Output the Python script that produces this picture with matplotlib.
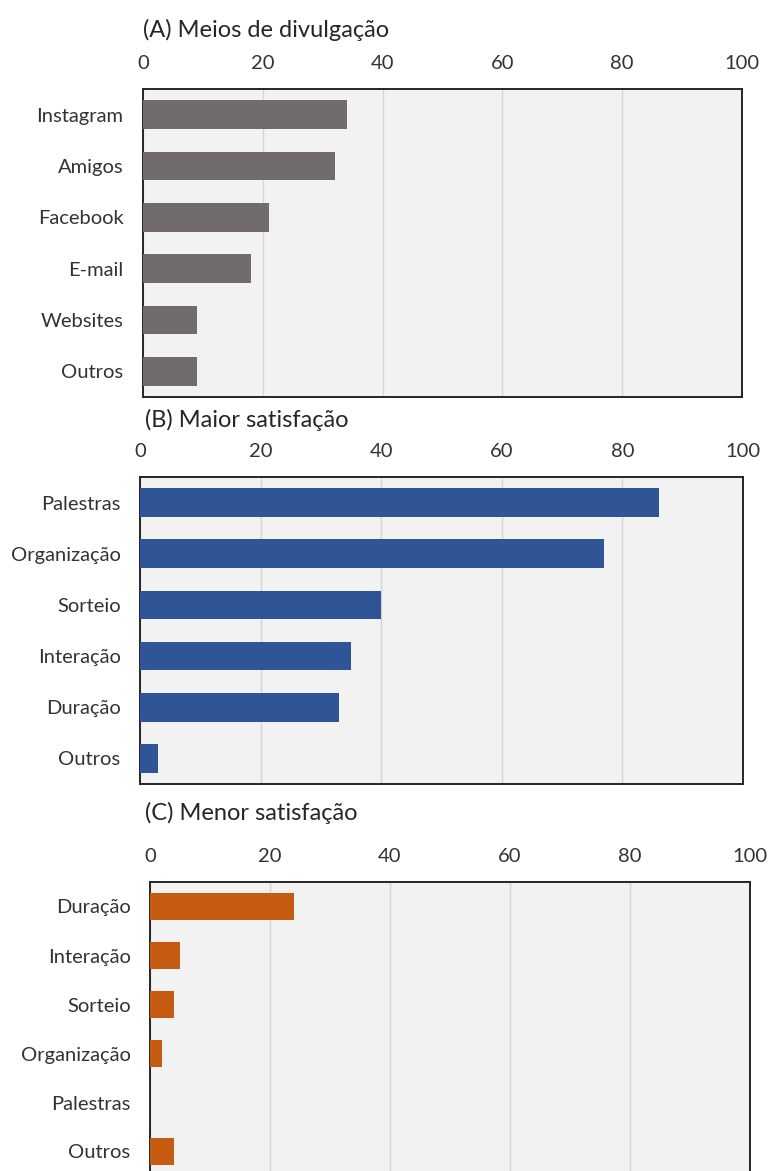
import numpy as np
import matplotlib
matplotlib.use('Agg')
import matplotlib.pyplot as plt

plt.rcParams['font.family'] = ['Lato', 'DejaVu Sans']

# dados (percentagens)
cat_a = ['Instagram', 'Amigos', 'Facebook', 'E-mail', 'Websites', 'Outros']
val_a = [34, 32, 21, 18, 9, 9]

cat_b = ['Palestras', 'Organização', 'Sorteio', 'Interação', 'Duração', 'Outros']
val_b = [86, 77, 40, 35, 33, 3]

cat_c = ['Duração', 'Interação', 'Sorteio', 'Organização', 'Palestras', 'Outros']
val_c = [24, 5, 4, 2, 0, 4]

titulos = ['(A) Meios de divulgação', '(B) Maior satisfação', '(C) Menor satisfação']
cores = ['#716b6b', '#2f5597', '#c55a11']

W, H = 772, 1171
fig = plt.figure(figsize=(W / 100, H / 100), dpi=100)

# posição de cada painel em pixels: esquerda, topo, largura, altura
caixas = [(143, 89, 599, 308), (140, 477, 603, 307), (150, 882, 600, 294)]
titulo_y = [30, 420, 813]
titulo_x = [143, 145, 145]

dados = [(cat_a, val_a), (cat_b, val_b), (cat_c, val_c)]
for i, (cats, vals) in enumerate(dados):
    l, t, w, h = caixas[i]
    ax = fig.add_axes([l / W, 1 - (t + h) / H, w / W, h / H])
    ax.set_facecolor('#f2f2f2')
    y = np.arange(len(cats))
    ax.barh(y, vals, height=0.56, color=cores[i], zorder=3)
    ax.set_xlim(0, 100)
    ax.set_ylim(len(cats) - 0.5, -0.5)
    ax.set_xticks([0, 20, 40, 60, 80, 100])
    ax.set_yticks(y)
    ax.set_yticklabels(cats)
    ax.xaxis.tick_top()
    ax.tick_params(axis='x', length=0, pad=12, labelsize=14.5, labelcolor='#333333')
    ax.tick_params(axis='y', length=0, pad=14, labelsize=14.5, labelcolor='#333333')
    ax.grid(axis='x', color='#d6d6d6', linewidth=1, zorder=0)
    for s in ax.spines.values():
        s.set_color('#262626')
        s.set_linewidth(1.4)
    fig.text(titulo_x[i] / W, 1 - titulo_y[i] / H, titulos[i], ha='left', va='center',
             fontsize=17, color='#262626')

fig.savefig('out.png', dpi=100)
